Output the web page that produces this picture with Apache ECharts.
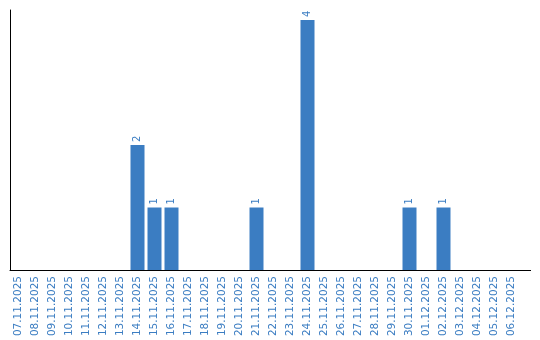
<!DOCTYPE html>
<html><head><meta charset="utf-8">
<script src="https://cdn.jsdelivr.net/npm/echarts@6/dist/echarts.min.js"></script>
<style>html,body{margin:0;padding:0;background:#fff}#c{width:540px;height:340px}</style>
</head><body><div id="c"></div>
<script>
var categories = ["07.11.2025","08.11.2025","09.11.2025","10.11.2025","11.11.2025","12.11.2025","13.11.2025","14.11.2025","15.11.2025","16.11.2025","17.11.2025","18.11.2025","19.11.2025","20.11.2025","21.11.2025","22.11.2025","23.11.2025","24.11.2025","25.11.2025","26.11.2025","27.11.2025","28.11.2025","29.11.2025","30.11.2025","01.12.2025","02.12.2025","03.12.2025","04.12.2025","05.12.2025","06.12.2025"];
var counts = [0,0,0,0,0,0,0,2,1,1,0,0,0,0,1,0,0,4,0,0,0,0,0,1,0,1,0,0,0,0];
var blue = '#3b7dc2';
var chart = echarts.init(document.getElementById('c'));
chart.setOption({
  animation: false,
  grid: {left: 10, top: 10, width: 510, height: 260, containLabel: false},
  xAxis: {
    type: 'category', data: categories,
    axisLine: {show: true, lineStyle: {color: '#000', width: 1}},
    axisTick: {show: false},
    axisLabel: {rotate: 90, interval: 0, color: blue, fontFamily: 'DejaVu Sans', fontSize: 10.5, margin: 6}
  },
  yAxis: {
    type: 'value', min: 0, max: 4.16,
    axisLine: {show: true, lineStyle: {color: '#000', width: 1}},
    axisTick: {show: false}, axisLabel: {show: false}, splitLine: {show: false}
  },
  graphic: [{type: 'line', shape: {x1: 519, y1: 270.5, x2: 531, y2: 270.5}, style: {stroke: '#000', lineWidth: 1}}],
  series: [{
    type: 'bar', data: counts.map(function(v){return v === 0 ? null : v;}), barWidth: 14,
    itemStyle: {color: blue},
    label: {show: true, position: 'top', rotate: 90, align: 'left', verticalAlign: 'middle', distance: 3,
      color: blue, fontFamily: 'DejaVu Sans', fontSize: 10}
  }]
});
</script></body></html>
